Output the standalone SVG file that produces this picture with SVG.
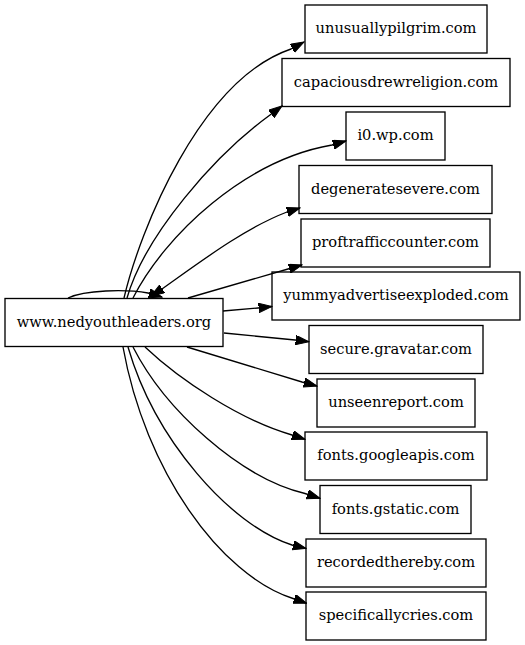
<svg xmlns="http://www.w3.org/2000/svg" width="525" height="645" viewBox="0 0 525 645">
<style>
.n rect{fill:none;stroke:#000;stroke-width:1.33}
.n text{font-family:"DejaVu Serif","Liberation Serif",serif;font-size:14.67px;text-anchor:middle;fill:#000}
.e path{fill:none;stroke:#000;stroke-width:1.33;marker-end:url(#ah)}
</style>
<defs>
<marker id="ah" markerUnits="userSpaceOnUse" markerWidth="14" markerHeight="10" refX="13.3" refY="4.7" orient="auto-start-reverse" viewBox="0 0 14 10">
<path d="M0,0 L13.3,4.7 L0,9.4 z" fill="#000" stroke="#000" stroke-width="1"/>
</marker>
</defs>
<rect width="525" height="645" fill="#fff"/>
<g id="edges" class="e">
<path d="M124,298 C140,230 200,80 291,49 L304,42"/>
<path d="M127,298 C145,235 215,155 270,115 L282,106"/>
<path d="M133,298 C165,235 245,160 332,145 L346,141"/>
<path style="marker-start:url(#ah)" d="M151,296 L162,289 C200,262 245,228 287,212 L300,208"/>
<path d="M68,298 C85,290 125,289 148,293 L162,297"/>
<path d="M188,298 L288,269 L302,265"/>
<path d="M223,311 L258,308 L272,306.5"/>
<path d="M224,333 L295,340 L309,341.7"/>
<path d="M187,347 L302,382 L317,386"/>
<path d="M145,347 C180,380 240,420 292,435 L305,439.3"/>
<path d="M133,347 C165,410 240,478 305,493.5 L320,498.3"/>
<path d="M128,347 C155,440 230,525 292,545 L306,548.5"/>
<path d="M123,347 C145,470 220,575 293,598.5 L306.7,603.3"/>
</g>
<g id="main" class="n"><rect x="5" y="298.5" width="218" height="48"/><text x="114" y="326.5">www.nedyouthleaders.org</text></g>
<g id="unusuallypilgrim" class="n"><rect x="305" y="5" width="182" height="48"/><text x="396" y="33">unusuallypilgrim.com</text></g>
<g id="capaciousdrewreligion" class="n"><rect x="282" y="58.5" width="228" height="48"/><text x="396" y="86.5">capaciousdrewreligion.com</text></g>
<g id="i0wp" class="n"><rect x="346" y="112" width="99" height="48"/><text x="395.5" y="140">i0.wp.com</text></g>
<g id="degeneratesevere" class="n"><rect x="299" y="165.5" width="193" height="48"/><text x="395.5" y="193.5">degeneratesevere.com</text></g>
<g id="proftrafficcounter" class="n"><rect x="301" y="219" width="189" height="48"/><text x="395.5" y="247">proftrafficcounter.com</text></g>
<g id="yummyadvertiseexploded" class="n"><rect x="272" y="272" width="248" height="48"/><text x="396" y="300">yummyadvertiseexploded.com</text></g>
<g id="securegravatar" class="n"><rect x="309" y="325.5" width="174" height="48"/><text x="396" y="353.5">secure.gravatar.com</text></g>
<g id="unseenreport" class="n"><rect x="317" y="379" width="158" height="48"/><text x="396" y="407">unseenreport.com</text></g>
<g id="fontsgoogleapis" class="n"><rect x="305" y="432" width="182" height="48"/><text x="396" y="460">fonts.googleapis.com</text></g>
<g id="fontsgstatic" class="n"><rect x="320" y="485.5" width="151" height="48"/><text x="395.5" y="513.5">fonts.gstatic.com</text></g>
<g id="recordedthereby" class="n"><rect x="306" y="539" width="180" height="48"/><text x="396" y="567">recordedthereby.com</text></g>
<g id="specificallycries" class="n"><rect x="306" y="592" width="180" height="48"/><text x="396" y="620">specificallycries.com</text></g>
</svg>
